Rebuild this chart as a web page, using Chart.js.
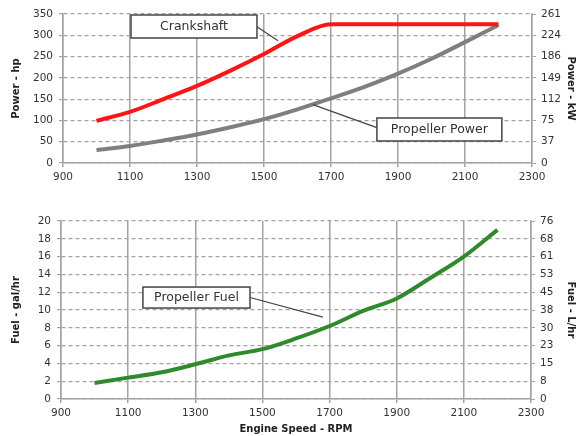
<!DOCTYPE html>
<html>
<head>
<meta charset="utf-8">
<style>
  body { margin: 0; background: #fff; }
  canvas { position: absolute; left: 0; }
  #powerChart { top: 0; }
  #fuelChart { top: 200px; }
</style>
</head>
<body>
<canvas id="powerChart" width="577" height="190"></canvas>
<canvas id="fuelChart" width="577" height="236"></canvas>
<script src="https://cdn.jsdelivr.net/npm/chart.js"></script>
<script>
  // engine speed (RPM) and values
  var rpm = [1000, 1100, 1200, 1300, 1400, 1500, 1600, 1700, 1800, 1900, 2000, 2100, 2200];
  var crankshaftHp = [99, 120, 150, 181, 217, 256, 298, 326, 326, 326, 326, 326, 326];
  var propellerHp = [30, 40, 53, 67, 84, 103, 126, 152, 179, 210, 245, 284, 324];
  var propellerFuelGph = [1.8, 2.4, 3.0, 3.9, 4.9, 5.6, 6.8, 8.2, 9.9, 11.3, 13.6, 16.0, 19.0];

  var HP_TO_KW = 0.7457;
  var GAL_TO_L = 3.785;

  var gridColor = '#a3a3a3';
  var tickFont = { family: 'DejaVu Sans', size: 10.5 };
  var titleFont = { family: 'DejaVu Sans', size: 10, weight: 'bold' };

  function points(ys) {
    return rpm.map(function (x, i) { return { x: x, y: ys[i] }; });
  }

  // callout boxes, placed in data units
  var powerCallouts = [
    { text: 'Crankshaft', x1: 1103, x2: 1479, y1: 347.7, y2: 293.6, from: 'right', fromY: 320, tx: 1542, ty: 287 },
    { text: 'Propeller Power', x1: 1837, x2: 2210, y1: 105.7, y2: 51.7, from: 'left', fromY: 83, tx: 1646, ty: 137 }
  ];
  var fuelCallouts = [
    { text: 'Propeller Fuel', x1: 1144, x2: 1463, y1: 12.58, y2: 10.22, from: 'right', fromY: 11.4, tx: 1680, ty: 9.2 }
  ];

  var calloutPlugin = {
    id: 'callouts',
    afterDraw: function (chart, args, opts) {
      var ctx = chart.ctx;
      var xs = chart.scales.x, ys = chart.scales.y;
      (opts.items || []).forEach(function (c) {
        var l = xs.getPixelForValue(c.x1), r = xs.getPixelForValue(c.x2);
        var t = ys.getPixelForValue(c.y1), b = ys.getPixelForValue(c.y2);
        var sx = c.from === 'right' ? r : l;
        var sy = ys.getPixelForValue(c.fromY);
        ctx.save();
        ctx.strokeStyle = '#444';
        ctx.lineWidth = 1.2;
        ctx.beginPath();
        ctx.moveTo(sx, sy);
        ctx.lineTo(xs.getPixelForValue(c.tx), ys.getPixelForValue(c.ty));
        ctx.stroke();
        ctx.fillStyle = '#fff';
        ctx.fillRect(l, t, r - l, b - t);
        ctx.lineWidth = 1.5;
        ctx.strokeRect(l, t, r - l, b - t);
        ctx.fillStyle = '#333';
        ctx.font = '12.5px "DejaVu Sans"';
        ctx.textAlign = 'center';
        ctx.textBaseline = 'middle';
        ctx.fillText(c.text, (l + r) / 2, (t + b) / 2 + 0.5);
        ctx.restore();
      });
    }
  };

  function xScale(height, withTitle) {
    return {
      type: 'linear', min: 900, max: 2300,
      ticks: { stepSize: 200, color: '#333', font: tickFont, padding: 4, maxRotation: 0,
               callback: function (v) { return String(v); } },
      grid: { color: gridColor, lineWidth: 1.5, tickLength: 4, tickColor: gridColor },
      border: { color: gridColor, width: 1.5 },
      title: { display: withTitle, text: 'Engine Speed - RPM', color: '#222', font: titleFont,
               padding: { top: 0, bottom: 1 } },
      afterFit: function (s) { s.height = height; }
    };
  }

  function leftScale(max, step, title, width) {
    return {
      type: 'linear', position: 'left', min: 0, max: max,
      ticks: { stepSize: step, color: '#333', font: tickFont, padding: 6 },
      grid: { color: gridColor, lineWidth: 1.2, tickLength: 4, tickColor: gridColor },
      border: { color: gridColor, width: 1.5, dash: [4, 3] },
      title: { display: true, text: title, color: '#222', font: titleFont, padding: { top: 10, bottom: 0 } },
      afterFit: function (s) { s.width = width; }
    };
  }

  function rightScale(max, step, factor, title, width) {
    return {
      type: 'linear', position: 'right', display: true, min: 0, max: max,
      ticks: { stepSize: step, color: '#333', font: tickFont, padding: 5,
               callback: function (v) { return String(Math.round(v * factor)); } },
      grid: { drawOnChartArea: false, tickLength: 4, tickColor: gridColor },
      border: { color: gridColor, width: 1.5 },
      title: { display: true, text: title, color: '#222', font: titleFont, padding: { top: 0, bottom: 0 } },
      afterFit: function (s) { s.width = width; }
    };
  }

  var lineStyle = { fill: false, pointRadius: 0, borderWidth: 4, cubicInterpolationMode: 'monotone' };

  new Chart(document.getElementById('powerChart'), {
    type: 'line',
    data: {
      datasets: [
        Object.assign({ label: 'Crankshaft', data: points(crankshaftHp), borderColor: '#ff1414' }, lineStyle),
        Object.assign({ label: 'Propeller Power', data: points(propellerHp), borderColor: '#7f7f7f' }, lineStyle)
      ]
    },
    options: {
      responsive: false, animation: false, devicePixelRatio: 1,
      layout: { padding: { top: 14, right: 0, bottom: 0, left: 0 } },
      plugins: { legend: { display: false }, tooltip: { enabled: false }, callouts: { items: powerCallouts } },
      scales: {
        x: xScale(27, false),
        y: leftScale(350, 50, 'Power - hp', 63),
        y2: rightScale(350, 50, HP_TO_KW, 'Power - kW', 45)
      }
    },
    plugins: [calloutPlugin]
  });

  new Chart(document.getElementById('fuelChart'), {
    type: 'line',
    data: {
      datasets: [
        Object.assign({ label: 'Propeller Fuel', data: points(propellerFuelGph), borderColor: '#2f8a2c' }, lineStyle)
      ]
    },
    options: {
      responsive: false, animation: false, devicePixelRatio: 1,
      layout: { padding: { top: 21, right: 0, bottom: 0, left: 0 } },
      plugins: { legend: { display: false }, tooltip: { enabled: false }, callouts: { items: fuelCallouts } },
      scales: {
        x: xScale(37, true),
        y: leftScale(20, 2, 'Fuel - gal/hr', 61),
        y2: rightScale(20, 2, GAL_TO_L, 'Fuel - L/hr', 46)
      }
    },
    plugins: [calloutPlugin]
  });
</script>
</body>
</html>
